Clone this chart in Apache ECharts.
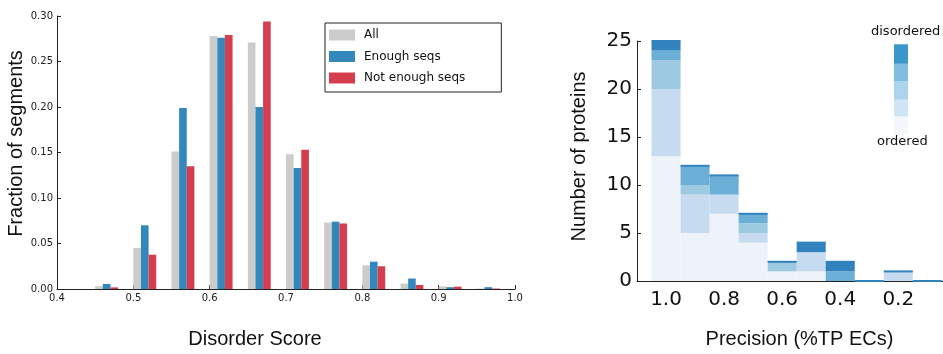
<!DOCTYPE html>
<html>
<head>
<meta charset="utf-8">
<script src="https://cdn.jsdelivr.net/npm/echarts@6/dist/echarts.min.js"></script>
<style>
html,body{margin:0;padding:0;background:#fff;}
#chart{width:943px;height:354px;}
</style>
</head>
<body>
<div id="chart"></div>
<script>
// ---- Left chart: histogram of disorder score ----
const binStarts = [0.45, 0.50, 0.55, 0.60, 0.65, 0.70, 0.75, 0.80, 0.85, 0.90, 0.95];
const allSegs = [0.003, 0.045, 0.151, 0.278, 0.271, 0.148, 0.073, 0.026, 0.006, 0.003, 0.0005];
const enoughSegs = [0.0055, 0.070, 0.199, 0.276, 0.200, 0.133, 0.074, 0.030, 0.0115, 0.002, 0.002];
const notEnoughSegs = [0.0018, 0.0377, 0.135, 0.279, 0.294, 0.153, 0.072, 0.025, 0.0044, 0.0026, 0.0005];
const leftSeriesNames = ['All', 'Enough seqs', 'Not enough seqs'];
const leftXTicks = [0.4, 0.5, 0.6, 0.7, 0.8, 0.9, 1.0];
const leftYTicks = [0.00, 0.05, 0.10, 0.15, 0.20, 0.25, 0.30];

// ---- Right chart: stacked histogram of precision ----
const precisionBins = [1.0, 0.9, 0.8, 0.7, 0.6, 0.5, 0.4, 0.3, 0.2, 0.1];
const orderedCounts = [13, 5, 7, 4, 1, 1, 0, 0, 0, 0];
const level2Counts = [7, 4, 2, 1, 0, 2, 0, 0, 1, 0];
const level3Counts = [3, 1, 0, 1, 1, 0, 0, 0, 0, 0];
const level4Counts = [1, 2, 2, 1, 0, 0, 1, 0, 0, 0];
const disorderedCounts = [1, 0, 0, 0, 0, 1, 1, 0, 0, 0];
const rightXTicks = [1.0, 0.8, 0.6, 0.4, 0.2];
const rightYTicks = [0, 5, 10, 15, 20, 25];

const leftColors = ['#cccccc', '#3288bd', '#d53e4f'];
const layerColors = ['#eef3fa', '#c6dbef', '#9ecae1', '#6baed6', '#3182bd'];
const cbarColors = ['#f4f8fd', '#d1e4f3', '#acd4ea', '#80bde1', '#3a96cb'];
const binW = 0.01;   // width of each grouped bar in data units
const precW = 0.1;   // width of precision bins

const chart = echarts.init(document.getElementById('chart'), null, {renderer: 'canvas'});

function groupedBar(offset) {
  return function (params, api) {
    const x0 = api.value(0) + offset * binW;
    const p0 = api.coord([x0, api.value(1)]);
    const p1 = api.coord([x0 + binW, 0]);
    return {
      type: 'rect',
      shape: {x: p0[0], y: p0[1], width: p1[0] - p0[0], height: p1[1] - p0[1]},
      style: {fill: api.visual('color')}
    };
  };
}

function stackRect(params, api) {
  const c = api.value(0);
  const pa = api.coord([c + precW / 2, api.value(2)]);
  const pb = api.coord([c - precW / 2, api.value(1)]);
  const x = Math.min(pa[0], pb[0]);
  const w = Math.abs(pb[0] - pa[0]);
  return {
    type: 'rect',
    shape: {x: x, y: pa[1], width: w, height: pb[1] - pa[1]},
    style: {fill: api.visual('color')}
  };
}

function topEdge(params, api) {
  const c = api.value(0);
  const pa = api.coord([c + precW / 2, api.value(1)]);
  const pb = api.coord([c - precW / 2, api.value(1)]);
  return {
    type: 'line',
    shape: {x1: Math.min(pa[0], pb[0]), y1: pa[1], x2: Math.max(pa[0], pb[0]), y2: pa[1]},
    style: {stroke: layerColors[4], lineWidth: 2}
  };
}

const layers = [orderedCounts, level2Counts, level3Counts, level4Counts, disorderedCounts];
const cumulative = precisionBins.map(() => 0);
const stackSeries = layers.map((arr, li) => {
  const data = precisionBins.map((c, i) => {
    const lo = cumulative[i];
    const hi = lo + arr[i];
    cumulative[i] = hi;
    return [c, lo, hi];
  }).filter(d => d[2] > d[1]);
  return {
    type: 'custom', xAxisIndex: 1, yAxisIndex: 1,
    renderItem: stackRect,
    itemStyle: {color: layerColors[li]},
    encode: {x: 0, y: [1, 2]},
    data: data,
    silent: true
  };
});
const totals = precisionBins.map((c, i) => [c, cumulative[i]]);

const tickFont = 'DejaVu Sans';
const titleFont = 'Liberation Sans';

const option = {
  animation: false,
  backgroundColor: '#fff',
  grid: [
    {left: 57, right: 428, top: 16, bottom: 65},
    {left: 637, right: 0, top: 41, bottom: 71}
  ],
  legend: {
    data: leftSeriesNames,
    orient: 'vertical',
    left: 325, top: 23,
    icon: 'rect',
    itemWidth: 26, itemHeight: 11,
    itemGap: 9.5,
    padding: [6, 36, 8, 4],
    borderColor: '#222', borderWidth: 1,
    textStyle: {fontFamily: tickFont, fontSize: 12, color: '#111', lineHeight: 12, padding: [0, 0, 0, 4]}
  },
  xAxis: [
    {
      type: 'value', gridIndex: 0, min: 0.4, max: 1.0, interval: 0.1,
      name: 'Disorder Score', nameLocation: 'middle', nameGap: 40,
      nameTextStyle: {fontFamily: titleFont, fontSize: 20, color: '#111', padding: [0, 62, 0, 0]},
      axisLine: {show: true, onZero: false, lineStyle: {color: '#222', width: 1}},
      axisTick: {show: true, inside: true, length: 4, lineStyle: {color: '#222'}},
      axisLabel: {fontFamily: tickFont, fontSize: 10, color: '#222', margin: 4,
        formatter: v => v.toFixed(1)},
      splitLine: {show: false}
    },
    {
      type: 'value', gridIndex: 1, min: 0.046, max: 1.1, inverse: true,
      name: 'Precision (%TP ECs)', nameLocation: 'middle', nameGap: 48,
      nameTextStyle: {fontFamily: titleFont, fontSize: 20, color: '#111', padding: [0, 0, 0, 19]},
      axisLine: {show: true, onZero: false, lineStyle: {color: '#222', width: 1}},
      axisTick: {show: true, inside: true, length: 5, lineStyle: {color: '#222'}, customValues: rightXTicks},
      axisLabel: {fontFamily: tickFont, fontSize: 20, color: '#111', margin: 9, customValues: rightXTicks,
        formatter: v => v.toFixed(1)},
      splitLine: {show: false}
    }
  ],
  yAxis: [
    {
      type: 'value', gridIndex: 0, min: 0, max: 0.30, interval: 0.05,
      name: 'Fraction of segments', nameLocation: 'middle', nameGap: 22,
      nameTextStyle: {fontFamily: titleFont, fontSize: 20, color: '#111', padding: [0, 0, 0, 18]},
      axisLine: {show: true, onZero: false, lineStyle: {color: '#222', width: 1}},
      axisTick: {show: true, inside: true, length: 4, lineStyle: {color: '#222'}},
      axisLabel: {fontFamily: tickFont, fontSize: 10, color: '#222', margin: 4,
        formatter: v => v.toFixed(2)},
      splitLine: {show: false}
    },
    {
      type: 'value', gridIndex: 1, min: 0, max: 25, interval: 5, position: 'left',
      name: 'Number of proteins', nameLocation: 'middle', nameGap: 48,
      nameTextStyle: {fontFamily: titleFont, fontSize: 20, color: '#111', padding: [0, 0, 0, 9]},
      axisLine: {show: true, onZero: false, lineStyle: {color: '#222', width: 1}},
      axisTick: {show: true, inside: true, length: 4, lineStyle: {color: '#222'}},
      axisLabel: {fontFamily: tickFont, fontSize: 20, color: '#111', margin: 5},
      splitLine: {show: false}
    }
  ],
  series: [
    {name: leftSeriesNames[0], type: 'custom', xAxisIndex: 0, yAxisIndex: 0, renderItem: groupedBar(0),
      itemStyle: {color: leftColors[0]}, encode: {x: 0, y: 1}, data: binStarts.map((b, i) => [b, allSegs[i]])},
    {name: leftSeriesNames[1], type: 'custom', xAxisIndex: 0, yAxisIndex: 0, renderItem: groupedBar(1),
      itemStyle: {color: leftColors[1]}, encode: {x: 0, y: 1}, data: binStarts.map((b, i) => [b, enoughSegs[i]])},
    {name: leftSeriesNames[2], type: 'custom', xAxisIndex: 0, yAxisIndex: 0, renderItem: groupedBar(2),
      itemStyle: {color: leftColors[2]}, encode: {x: 0, y: 1}, data: binStarts.map((b, i) => [b, notEnoughSegs[i]])},
    ...stackSeries,
    {type: 'custom', xAxisIndex: 1, yAxisIndex: 1, renderItem: topEdge, encode: {x: 0, y: 1},
      itemStyle: {color: layerColors[4]}, data: totals, silent: true, z: 5}
  ],
  graphic: [
    {type: 'text', left: 871, top: 25, style: {text: 'disordered', fontFamily: tickFont, fontSize: 13, fill: '#111'}},
    {type: 'text', left: 877, top: 135, style: {text: 'ordered', fontFamily: tickFont, fontSize: 13, fill: '#111'}},
    {type: 'rect', shape: {x: 894, y: 116.5, width: 14, height: 18.5}, style: {fill: cbarColors[0]}},
    {type: 'rect', shape: {x: 894, y: 99.7, width: 14, height: 16.8}, style: {fill: cbarColors[1]}},
    {type: 'rect', shape: {x: 894, y: 81.3, width: 14, height: 18.4}, style: {fill: cbarColors[2]}},
    {type: 'rect', shape: {x: 894, y: 63.8, width: 14, height: 17.5}, style: {fill: cbarColors[3]}},
    {type: 'rect', shape: {x: 894, y: 44.3, width: 14, height: 19.5}, style: {fill: cbarColors[4]}}
  ]
};
chart.setOption(option);
</script>
</body>
</html>
